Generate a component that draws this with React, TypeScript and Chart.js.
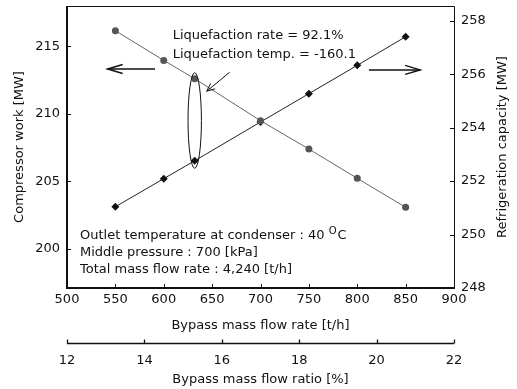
import React, { useEffect, useRef } from 'react';
import { Chart, registerables } from 'chart.js';
Chart.register(...registerables);

const flowRate = [550, 600, 632, 700, 750, 800, 850];
const compressorWork = [216.17, 213.97, 212.61, 209.5, 207.4, 205.23, 203.08];
const refrigCapacity = [251.04, 252.09, 252.76, 254.21, 255.27, 256.33, 257.4];
const leftTicks = [200, 205, 210, 215];
const rightTicks = [248, 250, 252, 254, 256, 258];
const rateTicks = [550, 600, 650, 700, 750, 800, 850];
const ratioTicks = [12, 14, 16, 18, 20, 22];
const noteLines = ['Liquefaction rate = 92.1%', 'Liquefaction temp. = -160.1'];
const conditionLines = [
  'Outlet temperature at condenser : 40 ',
  'Middle pressure : 700 [kPa]',
  'Total mass flow rate : 4,240 [t/h]',
];
const highlightX = 632;

const FONT = 'DejaVu Sans';
const TXT = '#111';

function arrow(ctx: CanvasRenderingContext2D, x1: number, y1: number, x2: number, y2: number, head: number, spread: number) {
  const a = Math.atan2(y2 - y1, x2 - x1);
  ctx.beginPath();
  ctx.moveTo(x1, y1);
  ctx.lineTo(x2, y2);
  ctx.stroke();
  const bx = x2 - head * Math.cos(a);
  const by = y2 - head * Math.sin(a);
  const px = -Math.sin(a) * spread;
  const py = Math.cos(a) * spread;
  ctx.beginPath();
  ctx.moveTo(bx + px, by + py);
  ctx.lineTo(x2, y2);
  ctx.lineTo(bx - px, by - py);
  ctx.stroke();
}

const decor = {
  id: 'decor',
  afterDraw(chart: any) {
    const ctx: CanvasRenderingContext2D = chart.ctx;
    const { left, right, top, bottom } = chart.chartArea;
    const sx = chart.scales.x;
    const sx2 = chart.scales.x2;
    const sy = chart.scales.y;
    const sy1 = chart.scales.y1;
    ctx.save();
    ctx.strokeStyle = '#111';
    // frame
    ctx.lineWidth = 1;
    ctx.beginPath();
    ctx.moveTo(left, top + 0.5);
    ctx.lineTo(right + 0.5, top + 0.5);
    ctx.lineTo(right + 0.5, bottom);
    ctx.stroke();
    ctx.lineWidth = 2;
    ctx.beginPath();
    ctx.moveTo(left, top);
    ctx.lineTo(left, bottom);
    ctx.lineTo(right + 1, bottom);
    ctx.stroke();
    // ticks
    ctx.lineWidth = 1;
    ctx.beginPath();
    rateTicks.forEach((v) => {
      const px = Math.round(sx.getPixelForValue(v)) + 0.5;
      ctx.moveTo(px, bottom);
      ctx.lineTo(px, bottom - 4);
    });
    leftTicks.forEach((v) => {
      const py = Math.round(sy.getPixelForValue(v)) + 0.5;
      ctx.moveTo(left, py);
      ctx.lineTo(left + 4, py);
    });
    rightTicks.forEach((v) => {
      const py = Math.round(sy1.getPixelForValue(v)) + 0.5;
      ctx.moveTo(right, py);
      ctx.lineTo(right - 4, py);
    });
    ctx.stroke();
    // secondary axis
    const y2 = Math.round(sx2.top) + 0.5;
    ctx.lineWidth = 1.3;
    ctx.beginPath();
    ctx.moveTo(sx2.getPixelForValue(ratioTicks[0]), y2);
    ctx.lineTo(sx2.getPixelForValue(ratioTicks[ratioTicks.length - 1]), y2);
    ratioTicks.forEach((v) => {
      const px = Math.round(sx2.getPixelForValue(v)) + 0.5;
      ctx.moveTo(px, y2);
      ctx.lineTo(px, y2 - 4);
    });
    ctx.stroke();

    // arrows showing axis association
    ctx.lineWidth = 1.5;
    arrow(ctx, sx.getPixelForValue(591), sy.getPixelForValue(213.33), sx.getPixelForValue(542), sy.getPixelForValue(213.33), 15, 4.5);
    arrow(ctx, sx.getPixelForValue(812), sy1.getPixelForValue(256.16), sx.getPixelForValue(865), sy1.getPixelForValue(256.16), 15, 4.5);

    // ellipse around highlighted points
    const hi = flowRate.indexOf(highlightX);
    const ex = sx.getPixelForValue(highlightX);
    const eTop = sy.getPixelForValue(compressorWork[hi]) - 6;
    const eBot = sy1.getPixelForValue(refrigCapacity[hi]) + 7.5;
    ctx.lineWidth = 1;
    ctx.beginPath();
    ctx.ellipse(ex, (eTop + eBot) / 2, 6.7, (eBot - eTop) / 2, 0, 0, Math.PI * 2);
    ctx.stroke();
    // pointer arrow
    const tipX = ex + 12;
    const tipY = sy.getPixelForValue(compressorWork[hi]) + 12.5;
    arrow(ctx, tipX + 23, tipY - 19, tipX, tipY, 8, 3.5);

    // notes
    ctx.fillStyle = TXT;
    ctx.font = `13px "${FONT}"`;
    ctx.textBaseline = 'middle';
    ctx.textAlign = 'left';
    noteLines.forEach((t, i) => ctx.fillText(t, left + 105.7, top + 30 + i * 18.3));
    conditionLines.forEach((t, i) => ctx.fillText(t, left + 13, top + 229.7 + i * 17));
    const w0 = ctx.measureText(conditionLines[0]).width;
    ctx.font = `10px "${FONT}"`;
    ctx.fillText('O', left + 13 + w0, top + 229.7 - 4);
    const wo = ctx.measureText('O').width;
    ctx.font = `13px "${FONT}"`;
    ctx.fillText('C', left + 13 + w0 + wo + 1, top + 229.7);

    // right axis title (reads bottom to top)
    ctx.save();
    ctx.translate(503, (top + bottom) / 2);
    ctx.rotate(-Math.PI / 2);
    ctx.textAlign = 'center';
    ctx.fillText('Refrigeration capacity [MW]', 0, 0);
    ctx.restore();
    ctx.restore();
  },
};

const tickFont = { family: FONT, size: 13 };
const noPad = (s: any) => {
  s.paddingTop = 0;
  s.paddingBottom = 0;
  s.paddingLeft = 0;
  s.paddingRight = 0;
};

export default function App() {
  const ref = useRef<HTMLCanvasElement>(null);
  useEffect(() => {
    if (!ref.current) return;
    const chart = new Chart(ref.current, {
      type: 'scatter',
      data: {
        datasets: [
          {
            label: 'Compressor work',
            data: flowRate.map((x, i) => ({ x, y: compressorWork[i] })),
            xAxisID: 'x',
            yAxisID: 'y',
            showLine: true,
            borderColor: '#666',
            borderWidth: 1,
            pointStyle: 'circle',
            pointRadius: 3.5,
            pointBackgroundColor: '#555',
            pointBorderColor: '#555',
            pointBorderWidth: 0,
          },
          {
            label: 'Refrigeration capacity',
            data: flowRate.map((x, i) => ({ x, y: refrigCapacity[i] })),
            xAxisID: 'x',
            yAxisID: 'y1',
            showLine: true,
            borderColor: '#222',
            borderWidth: 1,
            pointStyle: 'rectRot',
            pointRadius: 4,
            pointBackgroundColor: '#111',
            pointBorderColor: '#111',
            pointBorderWidth: 0,
          },
        ],
      },
      options: {
        animation: false,
        responsive: false,
        devicePixelRatio: 1,
        layout: { padding: { top: 6, left: 0, right: 0, bottom: 0 } },
        plugins: { legend: { display: false }, tooltip: { enabled: false } },
        scales: {
          x: {
            type: 'linear',
            position: 'bottom',
            weight: 0,
            min: 500,
            max: 900,
            ticks: { stepSize: 50, font: tickFont, color: TXT, padding: 4, maxRotation: 0 },
            grid: { display: false, drawTicks: false },
            border: { display: false },
            title: { display: true, text: 'Bypass mass flow rate [t/h]', font: tickFont, color: TXT, padding: { top: 0, bottom: 10 } },
            afterFit: (s: any) => { s.height = 55; noPad(s); },
          },
          x2: {
            type: 'linear',
            axis: 'x',
            position: 'bottom',
            weight: 1,
            min: 12,
            max: 22,
            ticks: { stepSize: 2, font: tickFont, color: TXT, padding: 10, maxRotation: 0 },
            grid: { display: false, drawTicks: false },
            border: { display: false },
            title: { display: true, text: 'Bypass mass flow ratio [%]', font: tickFont, color: TXT, padding: { top: 0, bottom: 2 } },
            afterFit: (s: any) => { s.height = 46; noPad(s); },
          },
          y: {
            type: 'linear',
            position: 'left',
            min: 197.1,
            max: 218,
            afterBuildTicks: (s: any) => { s.ticks = leftTicks.map((v) => ({ value: v })); },
            ticks: { font: tickFont, color: TXT, padding: 7 },
            grid: { display: false, drawTicks: false },
            border: { display: false },
            title: { display: true, text: 'Compressor work [MW]', font: tickFont, color: TXT, padding: { top: 12, bottom: 0 } },
            afterFit: (s: any) => { s.width = 67; noPad(s); },
          },
          y1: {
            type: 'linear',
            position: 'right',
            min: 248,
            max: 258.55,
            afterBuildTicks: (s: any) => { s.ticks = rightTicks.map((v) => ({ value: v })); },
            ticks: { font: tickFont, color: TXT, padding: 7 },
            grid: { display: false, drawTicks: false },
            border: { display: false },
            title: { display: false },
            afterFit: (s: any) => { s.width = 63; noPad(s); },
          },
        },
      },
      plugins: [decor],
    } as any);
    return () => chart.destroy();
  }, []);
  return (
    <div style={{ position: 'fixed', left: 0, top: 0, width: 517, height: 389, background: '#fff' }}>
      <canvas ref={ref} width={517} height={389} style={{ display: 'block' }} />
    </div>
  );
}
